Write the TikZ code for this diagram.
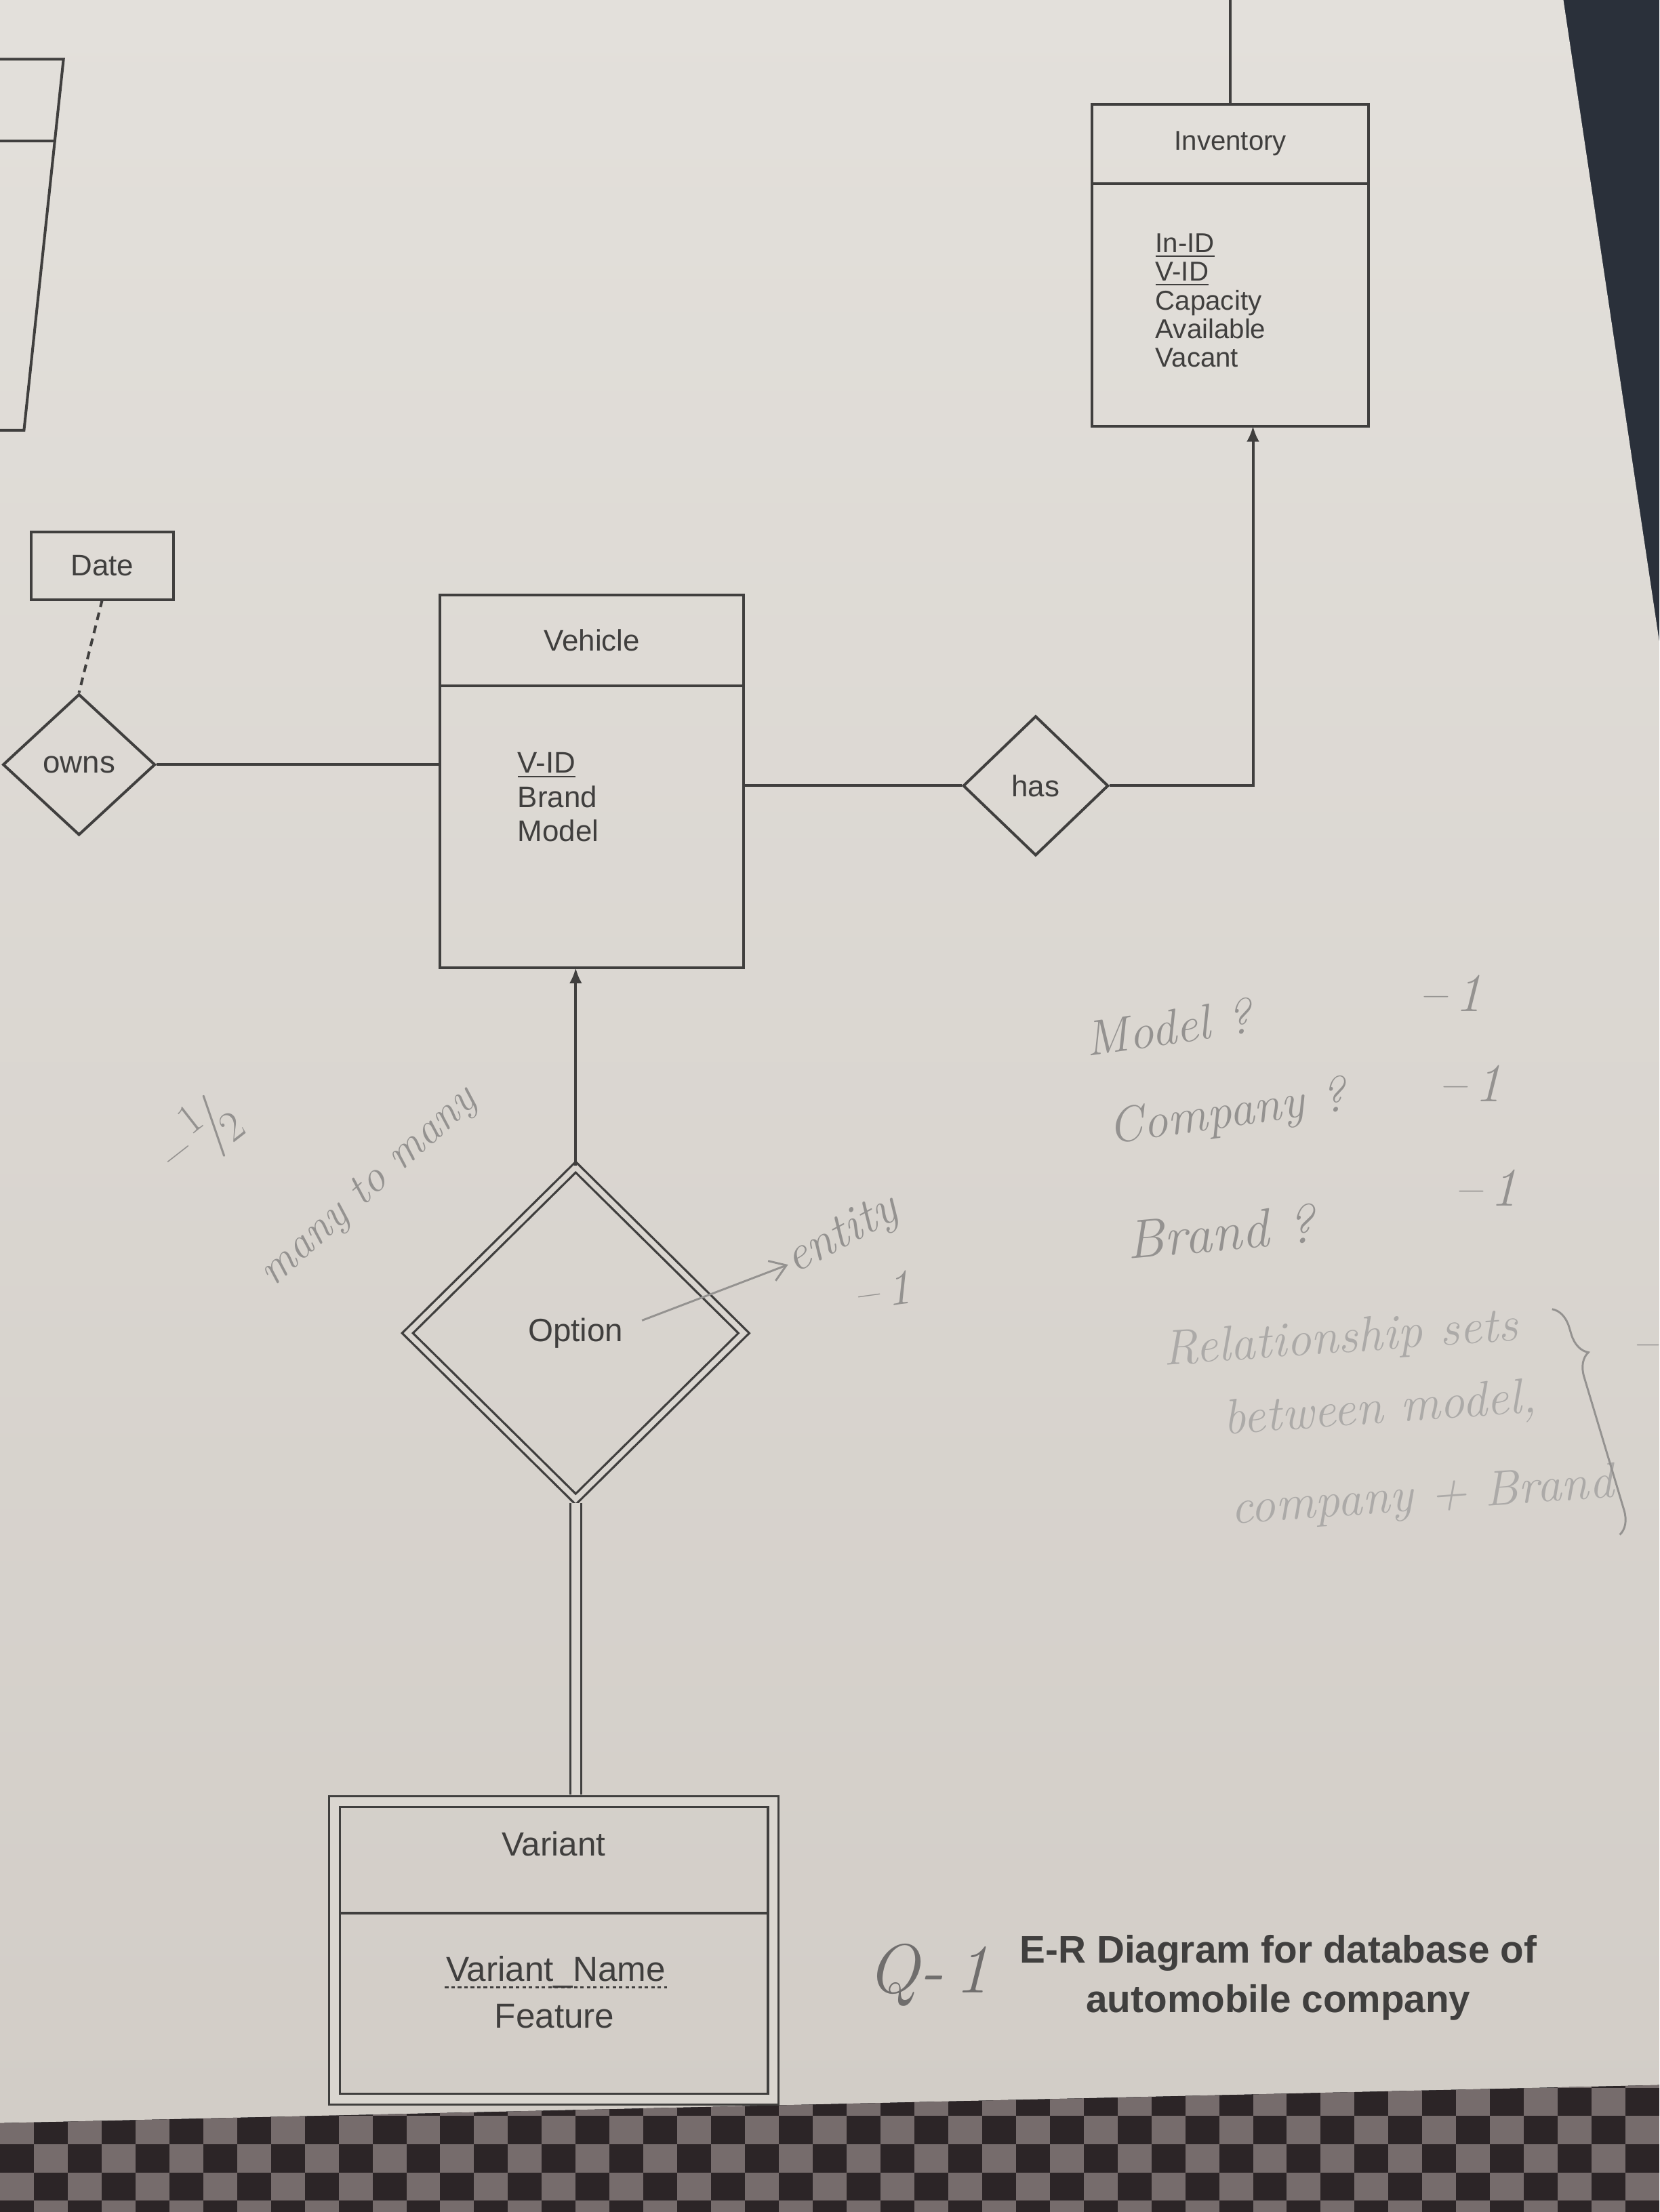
\documentclass[tikz,border=0pt]{standalone}
\usepackage{fontspec}
\newfontfamily\printfont{Liberation Sans}
\usetikzlibrary{arrows.meta, positioning, shapes.geometric, decorations.pathreplacing, fit}

\definecolor{paper}{RGB}{227,224,219}
\definecolor{paperdark}{RGB}{210,205,199}
\definecolor{ink}{RGB}{64,63,62}
\definecolor{pencil}{RGB}{148,146,144}
\definecolor{pencillight}{RGB}{172,170,168}
\definecolor{pencildark}{RGB}{112,110,109}
\definecolor{desk}{RGB}{42,48,58}
\definecolor{clothdark}{RGB}{44,37,39}
\definecolor{clothlight}{RGB}{118,108,108}

\begin{document}
\begin{tikzpicture}[
    x=0.2mm, y=-0.2mm,
    line width=1.1pt, color=ink,
    ent/.style={draw, rectangle, inner sep=0pt, outer sep=0pt, text=ink,
                font=\printfont\fontsize{12}{14}\selectfont},
    rel/.style={draw, diamond, inner sep=0pt, text=ink,
                font=\printfont\fontsize{12}{14}\selectfont},
    attr/.style={align=left, inner sep=0pt, text=ink, anchor=west},
    arr/.style={-{Latex[length=2.2mm, width=1.8mm]}},
    dbl/.style={double=paper!45!paperdark, double distance=1.2mm, line width=0.9pt},
    note/.style={inner sep=0pt, text=pencil, font=\itshape\fontsize{20}{22}\selectfont},
    pencilarr/.style={-{Straight Barb[length=2.2mm, width=3mm]}, pencil, line width=0.8pt}
]
    \useasboundingbox (0,0) rectangle (1176,1568);
    \clip (0,0) rectangle (1176,1568);

    % desk, sheet and cloth
    \fill[desk] (0,0) rectangle (1176,1568);
    \shade[top color=paper, bottom color=paperdark]
        (0,0) -- (1108,0) -- (1176,455) -- (1176,1478) -- (0,1505) -- cycle;
    \begin{scope}
        \clip (0,1505) -- (1176,1478) -- (1176,1568) -- (0,1568) -- cycle;
        \fill[clothdark] (0,1460) rectangle (1176,1568);
        \foreach \i in {0,...,48} \foreach \j in {0,...,5} {
            \pgfmathtruncatemacro{\cellodd}{mod(\i+\j,2)}
            \ifnum\cellodd=0 \fill[clothlight] (24*\i, 1460+20*\j) rectangle ++(24,20); \fi
        }
    \end{scope}

    % cut-off entity at the left edge
    \draw (-10,42) -- (45,42) -- (17,305) -- (-10,305);
    \draw (-10,100) -- (38,100);

    % entity sets
    \node[ent, minimum width=43mm, minimum height=12.8mm] (veh) at (419.5,454) {Vehicle};
    \node[ent, minimum width=43mm, minimum height=40mm, below=0pt of veh] (vehb) {};
    \node[attr, font=\printfont\fontsize{12}{13.7}\selectfont] (vehattr) at (366,565)
        {\underline{V-ID}\\Brand\\Model};

    \node[ent, font=\printfont\fontsize{11}{13}\selectfont, minimum width=39.2mm,
          minimum height=11.2mm] (inv) at (872,102) {Inventory};
    \node[ent, minimum width=39.2mm, minimum height=34.4mm, below=0pt of inv] (invb) {};
    \node[attr, font=\printfont\fontsize{11}{11.5}\selectfont] (invattr) at (818,213)
        {\underline{In-ID}\\\underline{V-ID}\\Capacity\\Available\\Vacant};

    \node[ent, minimum width=20.2mm, minimum height=9.6mm] (date) at (72.5,401) {Date};

    % relationships
    \node[rel, minimum width=21.6mm, minimum height=20mm,
          font=\printfont\fontsize{12.5}{14}\selectfont] (owns) at (56,542) {owns};
    \node[rel, minimum width=20.6mm, minimum height=19.8mm] (has) at (734,557) {has};
    \node[rel, dbl, double distance=0.75mm, minimum width=47.8mm, minimum height=47.2mm,
          font=\printfont\fontsize{13}{15}\selectfont] (opt) at (408,945) {Option};

    % weak entity
    \node[ent, draw=none, minimum width=62.2mm, minimum height=15.8mm, text depth=3.8mm,
          font=\printfont\fontsize{13.5}{16}\selectfont] (var) at (392.5,1316.5) {Variant};
    \node[ent, draw=none, minimum width=62.2mm, minimum height=26.4mm, below=0pt of var] (varb) {};
    \node[attr, anchor=center, font=\printfont\fontsize{14}{17}\selectfont] (varkey) at (394,1398) {Variant\_Name};
    \node[attr, anchor=center, font=\printfont\fontsize{14}{17}\selectfont] (varfeat) at (393,1429) {Feature};
    \draw[line width=0.7pt, dash pattern=on 1.4pt off 1.2pt]
        ([yshift=-2.5pt]varkey.base west) -- ([yshift=-2.5pt]varkey.base east);
    \draw (var.south west) -- (var.south east);
    \node[draw, dbl, inner sep=0pt, fit=(var)(varb)] (varbox) {};

    % connectors
    \draw[dash pattern=on 1.1mm off 0.8mm] (date.south) -- (owns.north);
    \draw (owns.east) -- (owns.east -| vehb.west);
    \draw (vehb.east |- has.west) -- (has.west);
    \coordinate (hasbend) at (888,557);
    \draw[arr] (has.east) -- (hasbend) -- (hasbend |- invb.south);
    \coordinate (invup) at (866,0);
    \draw (inv.north) -- (inv.north |- invup);
    \draw[arr] (opt.north) -- (opt.north |- vehb.south);
    \draw[dbl, shorten <=0.3mm, shorten >=0.8mm] (opt.south) -- (opt.south |- varbox.north);

    % caption
    \node[font=\printfont\bfseries\fontsize{15.5}{20}\selectfont, align=center, text=ink]
        (title) at (906,1402) {E-R Diagram for database of\\automobile company};

    % pencil notes
    \node[note, rotate=8] (nmodel) at (828,728) {Model ?};
    \node[note, rotate=8] (ncompany) at (870,790) {Company ?};
    \node[note, rotate=5, font=\itshape\fontsize{22}{24}\selectfont] (nbrand) at (865,873) {Brand ?};
    \node[note, font=\itshape\fontsize{22}{24}\selectfont] (mark1) at (1028,704) {--\,1};
    \node[note, font=\itshape\fontsize{22}{24}\selectfont] (mark2) at (1042,768) {--\,1};
    \node[note, font=\itshape\fontsize{22}{24}\selectfont] (mark3) at (1053,842) {--\,1};

    \node[note, text=pencillight, rotate=4] (nrel1) at (950,950) {Relationship sets};
    \node[note, text=pencillight, rotate=4] (nrel2) at (978,1000) {between model,};
    \node[note, text=pencillight, rotate=4] (nrel3) at (1008,1062) {company + Brand};
    \coordinate (bracetop) at (1100,928);
    \coordinate (bracebot) at (1148,1088);
    \draw[pencil, line width=0.8pt, decorate, decoration={brace, amplitude=9pt, aspect=0.22}]
        (bracetop) -- (bracebot);
    \node[note] (mark4) at (1166,958) {--};

    \node[note, rotate=38, font=\itshape\fontsize{24}{26}\selectfont] (nhalf) at (140,806) {--\,$^1\!/\!_2$};
    \node[note, rotate=42, font=\itshape\fontsize{18}{20}\selectfont] (nmany) at (262,842) {many to many};
    \node[note, rotate=28] (nentity) at (597,876) {entity};
    \coordinate (entfoot) at (455,936);
    \draw[pencilarr] (entfoot) -- (nentity.west);
    \node[note, rotate=8] (mark5) at (625,915) {--\,1};

    \node[note, text=pencildark, font=\itshape\fontsize{28}{30}\selectfont] (qnum) at (658,1400) {Q-\,1};
\end{tikzpicture}
\end{document}
